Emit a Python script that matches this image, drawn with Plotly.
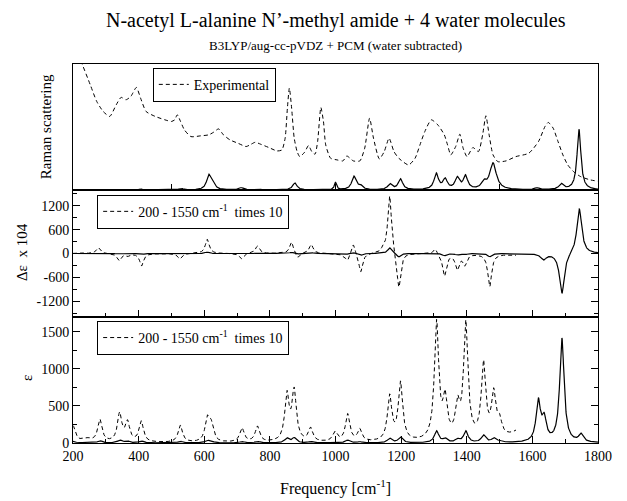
import numpy as np
import plotly.graph_objects as go
from plotly.subplots import make_subplots

# ---------------- data ----------------
# Experimental Raman spectrum (arbitrary units, 0-100 panel scale)
raman_exp_x = [200, 227.8, 252.5, 272.3, 292.1, 311.9, 331.7, 346.6, 361.4, 376.3, 393.1, 406, 422.8,
               450.5, 480.2, 500, 509.9, 517.8, 527.7, 539.6, 559.4, 589.1, 613.9, 628.7, 643.6, 658.4,
               678.2, 703, 727.7, 742.6, 755.4, 772.3, 797, 821.8, 836.6, 846.5, 853.4, 859.4, 866.3,
               874.2, 883.1, 891, 905.9, 917.8, 927.7, 937.6, 945.5, 955.4, 963.3, 970.2, 985.1, 1004.9,
               1022.7, 1034.6, 1054.4, 1074.2, 1089, 1103.9, 1115.8, 1133.6, 1148.5, 1163.3, 1178.2,
               1193, 1222.7, 1242.5, 1257.4, 1272.2, 1292, 1311.8, 1331.6, 1341.5, 1351.4, 1366.3,
               1379.1, 1389, 1400.9, 1418.7, 1435.6, 1448.4, 1458.3, 1468.2, 1480.1, 1495, 1519.7,
               1549.4, 1589, 1618.7, 1638.5, 1648.4, 1663.3, 1678.1, 1693, 1707.8, 1727.6, 1747.4,
               1777, 1800]
raman_exp_y = [118, 100, 83.6, 70.3, 62.3, 58.4, 67.6, 73.5, 71.6, 74.3, 81.4, 72.9, 62.3,
               58.4, 55.7, 54.4, 55.7, 59.7, 54.4, 47.7, 42.4, 43, 43.8, 45.9, 48.5, 43.8,
               39.8, 37.1, 34.5, 36.3, 37.9, 36.3, 33.7, 31, 31.8, 41.1, 65, 80.9, 65,
               41.1, 30.5, 26.5, 30, 35.3, 30.5, 28.4, 38.5, 65.5, 54.4, 35.8, 25.2, 23.9,
               23.1, 27, 23.1, 23.1, 33.2, 57, 41.1, 24.7, 30.5, 41.1, 30.5,
               25.2, 19.9, 25.2, 35.8, 46.4, 55.7, 51.7, 43.8, 35.8, 27.9, 34.5,
               44.3, 33.2, 26.5, 33.7, 30.5, 43.8, 58.9, 43.8, 27.9, 22.5, 23.1,
               26.5, 29.2, 38.5, 50.4, 53.6, 49.1, 38.5, 27.9, 19.9, 14.1, 10.6,
               8, 7]

# Calculated Raman bands: position [cm-1], intensity, half width
raman_calc_pos = [406, 530, 614, 627, 713, 765, 876, 1000, 1056, 1076, 1166, 1198, 1307, 1334,
                  1371, 1396, 1452, 1480, 1614, 1688, 1742]
raman_calc_int = [0.8, 1.2, 11.5, 3.5, 1.8, 0.8, 5.5, 6, 10.5, 3, 4.5, 8.5, 12.5, 8,
                  9, 10.5, 5, 21, 1.5, 4.5, 48]
raman_calc_hw = [8, 8, 8, 8, 8, 8, 8, 4, 8, 8, 8, 8, 8, 8,
                 8, 8, 8, 12, 8, 8, 7]

# Calculated VCD bands (delta epsilon x 10^4)
vcd_pos = [223, 277, 340, 366, 409, 525, 609, 713, 762, 866, 884, 926, 1025, 1037, 1054, 1077,
           1144, 1165, 1193, 1304, 1332, 1371, 1394, 1470, 1634, 1690, 1743]
vcd_amp = [2.5, 15, -18, -6, -31, -14, 36, -14, 19, 30, -14, 23, -6, -18, 28, -48,
           7, 150, -93, 15, -56, -38, -27, -82, -145, -1030, 1150]
vcd_hw = [7, 7, 7, 7, 7, 7, 7, 7, 7, 7, 7, 7, 7, 7, 7, 7,
          7, 7, 7, 7, 7, 7, 7, 7, 10, 9, 9]

# Calculated IR bands (epsilon)
ir_pos = [200, 240, 282, 342, 366, 408, 527, 609, 621, 715, 762, 852, 874, 924, 998, 1037, 1074,
          1165, 1198, 1308, 1334, 1372, 1397, 1451, 1482, 1500, 1618, 1636, 1690, 1748]
ir_amp = [22, 5, 30, 38, 26, 28, 23, 30, 22, 19, 21, 62, 67, 18, 13, 37, 16,
          60, 78, 158, 52, 42, 155, 100, 58, 20, 545, 290, 1400, 105]
ir_hw = [8, 18, 8, 8, 8, 8, 8, 8, 8, 8, 8, 8, 8, 8, 8, 8, 8,
         8, 8, 8, 8, 8, 8, 8, 8, 8, 8, 8, 8, 8]

scaled_range = [200, 1550]   # region shown "times 10"
scale_factor = 10

# ---------------- spectra from band lists ----------------
x = np.arange(200, 1800.01, 0.5)


def spectrum(pos, amp, hw):
    y = np.zeros_like(x)
    for p, a, w in zip(pos, amp, hw):
        y += a * w * w / ((x - p) ** 2 + w * w)
    return y


raman_calc = spectrum(raman_calc_pos, raman_calc_int, raman_calc_hw)
vcd = spectrum(vcd_pos, vcd_amp, vcd_hw)
ir = spectrum(ir_pos, ir_amp, ir_hw)
mask = (x >= scaled_range[0]) & (x <= scaled_range[1])
xs = x[mask]
vcd10 = vcd[mask] * scale_factor
ir10 = ir[mask] * scale_factor

# ---------------- figure ----------------
FONT = "Liberation Serif, Times New Roman, serif"
DASH = "4px,3px"

fig = make_subplots(rows=3, cols=1, vertical_spacing=0)

fig.add_trace(go.Scatter(x=raman_exp_x, y=raman_exp_y, mode="lines", name="Experimental",
                         line=dict(color="black", width=1, dash=DASH, shape="spline", smoothing=0.6),
                         legend="legend"), row=1, col=1)
fig.add_trace(go.Scatter(x=x, y=raman_calc, mode="lines", showlegend=False,
                         line=dict(color="black", width=1.2)), row=1, col=1)

fig.add_trace(go.Scatter(x=xs, y=vcd10, mode="lines",
                         name="200 - 1550 cm<sup>-1</sup>  times 10",
                         line=dict(color="black", width=1, dash=DASH), legend="legend2"), row=2, col=1)
fig.add_trace(go.Scatter(x=x, y=vcd, mode="lines", showlegend=False,
                         line=dict(color="black", width=1.2)), row=2, col=1)

fig.add_trace(go.Scatter(x=xs, y=ir10, mode="lines",
                         name="200 - 1550 cm<sup>-1</sup>  times 10",
                         line=dict(color="black", width=1, dash=DASH), legend="legend3"), row=3, col=1)
fig.add_trace(go.Scatter(x=x, y=ir, mode="lines", showlegend=False,
                         line=dict(color="black", width=1.2)), row=3, col=1)

axis_common = dict(showline=True, linecolor="black", linewidth=1, showgrid=False, zeroline=False,
                   tickcolor="black", tickfont=dict(family=FONT, size=14, color="black"))

fig.update_layout(
    xaxis=dict(axis_common, range=[200, 1800], mirror=True, ticks="inside", ticklen=6,
               tickmode="array", tickvals=[500, 1000, 1500], showticklabels=False),
    xaxis2=dict(axis_common, range=[200, 1800], mirror=True, ticks="inside", ticklen=7,
                tick0=200, dtick=200, showticklabels=False,
                minor=dict(ticks="inside", dtick=100, ticklen=4, tickcolor="black")),
    xaxis3=dict(axis_common, range=[200, 1800], mirror=True, ticks="inside", ticklen=7,
                tick0=200, dtick=200, showticklabels=True,
                minor=dict(ticks="inside", dtick=100, ticklen=4, tickcolor="black")),
    yaxis=dict(axis_common, range=[0, 100], mirror=True, ticks="", showticklabels=False,
               domain=[0.6675, 1]),
    yaxis2=dict(axis_common, range=[-1600, 1600], mirror="ticks", ticks="inside", ticklen=7,
                tickmode="array", tickvals=[-1200, -600, 0, 600, 1200],
                ticktext=["-1200", "-600", "0", "600", "1200"],
                minor=dict(ticks="inside", tickmode="array",
                           tickvals=[-1500, -900, -300, 300, 900, 1500], ticklen=4, tickcolor="black"),
                domain=[0.3325, 0.6675]),
    yaxis3=dict(axis_common, range=[0, 1700], mirror="ticks", ticks="inside", ticklen=7,
                tickmode="array", tickvals=[0, 500, 1000, 1500],
                minor=dict(ticks="inside", tickmode="array",
                           tickvals=[250, 750, 1250], ticklen=4, tickcolor="black"),
                domain=[0, 0.3325]),
)

legend_common = dict(xanchor="left", yanchor="top", bordercolor="black", borderwidth=1,
                     bgcolor="white", font=dict(family=FONT, size=14, color="black"),
                     itemwidth=30, tracegroupgap=0)
fig.update_layout(
    legend=dict(legend_common, x=0.152, y=0.99),
    legend2=dict(legend_common, x=0.046, y=0.655),
    legend3=dict(legend_common, x=0.046, y=0.322),
)

annotations = [
    dict(text="N-acetyl L-alanine N’-methyl amide + 4 water molecules", x=0.5, y=1.116,
         font=dict(family=FONT, size=20, color="black")),
    dict(text="B3LYP/aug-cc-pVDZ + PCM (water subtracted)", x=0.5, y=1.05,
         font=dict(family=FONT, size=13, color="black")),
    dict(text="Frequency [cm<sup>-1</sup>]", x=0.5, y=-0.118,
         font=dict(family=FONT, size=16, color="black")),
    dict(text="Raman scattering", x=-0.051, y=0.834, textangle=-90,
         font=dict(family=FONT, size=15, color="black")),
    dict(text="Δε  x 104", x=-0.097, y=0.504, textangle=-90,
         font=dict(family=FONT, size=15, color="black")),
    dict(text="ε", x=-0.088, y=0.171, textangle=-90,
         font=dict(family=FONT, size=15, color="black")),
]
for a in annotations:
    a.update(xref="paper", yref="paper", showarrow=False, xanchor="center", yanchor="middle")

fig.update_layout(
    annotations=annotations,
    width=627, height=501,
    margin=dict(l=73, r=29, t=64, b=58),
    paper_bgcolor="white", plot_bgcolor="white",
    font=dict(family=FONT, color="black"),
)

fig.write_html("out.html", config={"displayModeBar": False},
               post_script="document.body.style.margin='0px';")
